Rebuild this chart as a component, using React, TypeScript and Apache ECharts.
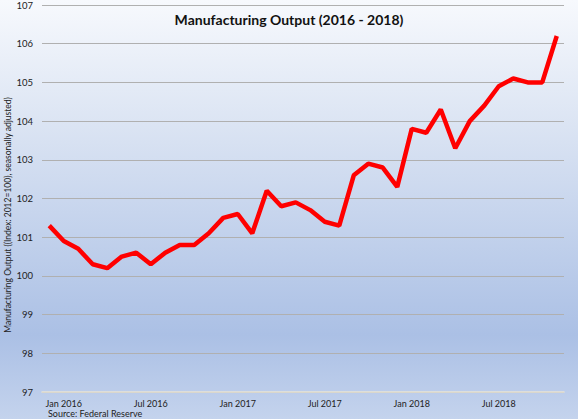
import React, { useEffect, useRef } from "react";
import * as echarts from "echarts";

const months = [
  "Dec 2015",
  "Jan 2016", "Feb 2016", "Mar 2016", "Apr 2016", "May 2016", "Jun 2016",
  "Jul 2016", "Aug 2016", "Sep 2016", "Oct 2016", "Nov 2016", "Dec 2016",
  "Jan 2017", "Feb 2017", "Mar 2017", "Apr 2017", "May 2017", "Jun 2017",
  "Jul 2017", "Aug 2017", "Sep 2017", "Oct 2017", "Nov 2017", "Dec 2017",
  "Jan 2018", "Feb 2018", "Mar 2018", "Apr 2018", "May 2018", "Jun 2018",
  "Jul 2018", "Aug 2018", "Sep 2018", "Oct 2018", "Nov 2018",
];

const output = [
  101.3,
  100.9, 100.7, 100.3, 100.2, 100.5, 100.6,
  100.3, 100.6, 100.8, 100.8, 101.1, 101.5,
  101.6, 101.1, 102.2, 101.8, 101.9, 101.7,
  101.4, 101.3, 102.6, 102.9, 102.8, 102.3,
  103.8, 103.7, 104.3, 103.3, 104.0, 104.4,
  104.9, 105.1, 105.0, 105.0, 106.2,
];

const shownMonths = ["Jan", "Jul"];
const title = "Manufacturing Output (2016 - 2018)";
const yName = "Manufacturing Output ((Index: 2012=100), seasonally adjusted)";
const source = "Source: Federal Reserve";

const FONT = "Lato, 'Open Sans', sans-serif";

export default function App() {
  const ref = useRef<HTMLDivElement>(null);

  useEffect(() => {
    document.body.style.margin = "0";
    if (!ref.current) return;
    const chart = echarts.init(ref.current, null, { renderer: "svg" });
    chart.setOption({
      animation: false,
      backgroundColor: new echarts.graphic.LinearGradient(0, 0, 0, 1, [
        { offset: 0, color: "#f7f9fd" },
        { offset: 0.3, color: "#dbe4f3" },
        { offset: 0.8, color: "#abc0e5" },
        { offset: 1, color: "#c4d3ed" },
      ]),
      textStyle: { fontFamily: FONT },
      title: {
        text: title,
        left: "center",
        top: 7,
        textStyle: { fontFamily: FONT, fontSize: 14, fontWeight: "bold", color: "#111" },
      },
      grid: { left: 42, right: 14, top: 5, bottom: 27, containLabel: false },
      xAxis: {
        type: "category",
        data: months,
        boundaryGap: true,
        axisLine: { show: true, lineStyle: { color: "#e8e4d6", width: 1.5 } },
        axisTick: { show: false },
        axisLabel: {
          interval: (i: number, v: string) => shownMonths.includes(v.slice(0, 3)),
          color: "#222",
          fontSize: 9,
          fontFamily: FONT,
          margin: 7,
        },
        splitLine: { show: false },
      },
      yAxis: {
        type: "value",
        min: 97,
        max: 107,
        interval: 1,
        axisLine: { show: false },
        axisTick: { show: false },
        axisLabel: { color: "#222", fontSize: 9.5, fontFamily: FONT, margin: 9 },
        splitLine: { show: true, lineStyle: { color: "#b0b0b0", width: 1 } },
      },
      graphic: [
        {
          type: "text",
          x: 8,
          y: 215,
          rotation: Math.PI / 2,
          style: {
            text: yName,
            fontSize: 8.5,
            fontFamily: FONT,
            fill: "#222",
            textAlign: "center",
            textVerticalAlign: "middle",
          },
        },
        {
          type: "text",
          left: 48,
          top: 409,
          style: { text: source, fontSize: 9, fontFamily: FONT, fill: "#222" },
        },
      ],
      series: [
        {
          type: "line",
          data: output,
          symbol: "none",
          lineStyle: { color: "#ff0000", width: 4.5 },
          itemStyle: { color: "#ff0000" },
        },
      ],
    });
    return () => chart.dispose();
  }, []);

  return (
    <div
      ref={ref}
      style={{ position: "fixed", left: 0, top: 0, width: 578, height: 419 }}
    />
  );
}
